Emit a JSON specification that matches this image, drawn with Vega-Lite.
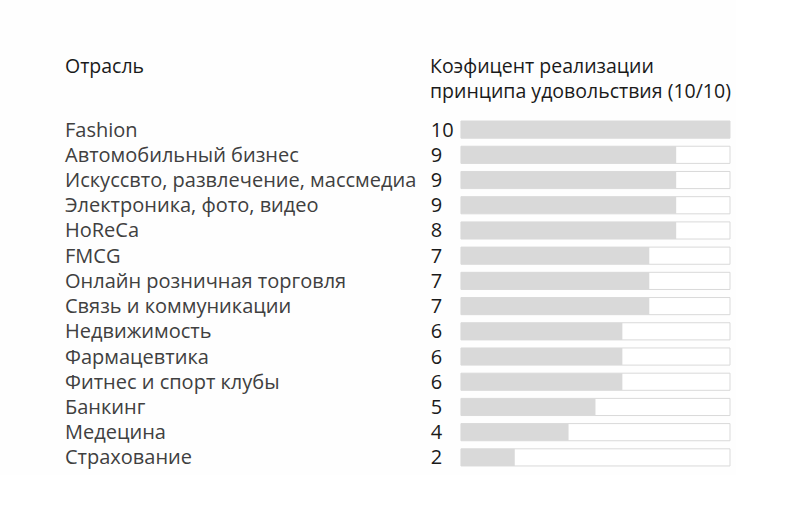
{
  "$schema": "https://vega.github.io/schema/vega-lite/v6.json",
  "background": "#fefefe",
  "padding": {"left": 65, "top": 56, "right": 5, "bottom": 5},
  "spacing": 0,
  "config": {
    "view": {"stroke": null},
    "font": "Open Sans",
    "title": {"font": "Open Sans", "fontSize": 19.5, "fontWeight": "normal", "color": "#1a1a1a", "anchor": "start", "lineHeight": 25, "offset": 15, "baseline": "top"}
  },
  "data": {
    "values": [
      {"industry": "Fashion", "score": 10, "bar": 10, "max": 10},
      {"industry": "Автомобильный бизнес", "score": 9, "bar": 8, "max": 10},
      {"industry": "Искуссвто, развлечение, массмедиа", "score": 9, "bar": 8, "max": 10},
      {"industry": "Электроника, фото, видео", "score": 9, "bar": 8, "max": 10},
      {"industry": "HoReCa", "score": 8, "bar": 8, "max": 10},
      {"industry": "FMCG", "score": 7, "bar": 7, "max": 10},
      {"industry": "Онлайн розничная торговля", "score": 7, "bar": 7, "max": 10},
      {"industry": "Связь и коммуникации", "score": 7, "bar": 7, "max": 10},
      {"industry": "Недвижимость", "score": 6, "bar": 6, "max": 10},
      {"industry": "Фармацевтика", "score": 6, "bar": 6, "max": 10},
      {"industry": "Фитнес и спорт клубы", "score": 6, "bar": 6, "max": 10},
      {"industry": "Банкинг", "score": 5, "bar": 5, "max": 10},
      {"industry": "Медецина", "score": 4, "bar": 4, "max": 10},
      {"industry": "Страхование", "score": 2, "bar": 2, "max": 10}
    ]
  },
  "hconcat": [
    {
      "width": 365,
      "height": 353,
      "title": {"text": ["Отрасль", " "]},
      "mark": {"type": "text", "align": "left", "baseline": "middle", "fontSize": 20, "color": "#404040", "dy": 1},
      "encoding": {
        "y": {"field": "industry", "type": "nominal", "sort": null, "axis": null,
              "scale": {"paddingInner": 0.32, "paddingOuter": 0.16}},
        "x": {"datum": 0, "type": "quantitative", "scale": {"domain": [0, 1]}, "axis": null},
        "text": {"field": "industry", "type": "nominal"}
      }
    },
    {
      "width": 300,
      "height": 353,
      "title": {"text": ["Коэфицент реализации", "принципа удовольствия (10/10)"]},
      "layer": [
        {
          "mark": {"type": "bar", "fill": "#ffffff", "stroke": "#d9d9d9", "strokeWidth": 1},
          "encoding": {
            "y": {"field": "industry", "type": "nominal", "sort": null, "axis": null,
                  "scale": {"paddingInner": 0.32, "paddingOuter": 0.16}},
            "x": {"field": "max", "type": "quantitative", "stack": null, "scale": {"domain": [-1.15, 10], "nice": false, "zero": false}, "axis": null}
          }
        },
        {
          "mark": {"type": "bar", "fill": "#d9d9d9"},
          "encoding": {
            "y": {"field": "industry", "type": "nominal", "sort": null, "axis": null},
            "x": {"field": "bar", "type": "quantitative", "stack": null}
          }
        },
        {
          "mark": {"type": "text", "align": "left", "baseline": "middle", "fontSize": 20, "color": "#1a1a1a", "dy": 1},
          "encoding": {
            "y": {"field": "industry", "type": "nominal", "sort": null, "axis": null},
            "x": {"datum": -1.12},
            "text": {"field": "score", "type": "quantitative"}
          }
        }
      ]
    }
  ]
}
